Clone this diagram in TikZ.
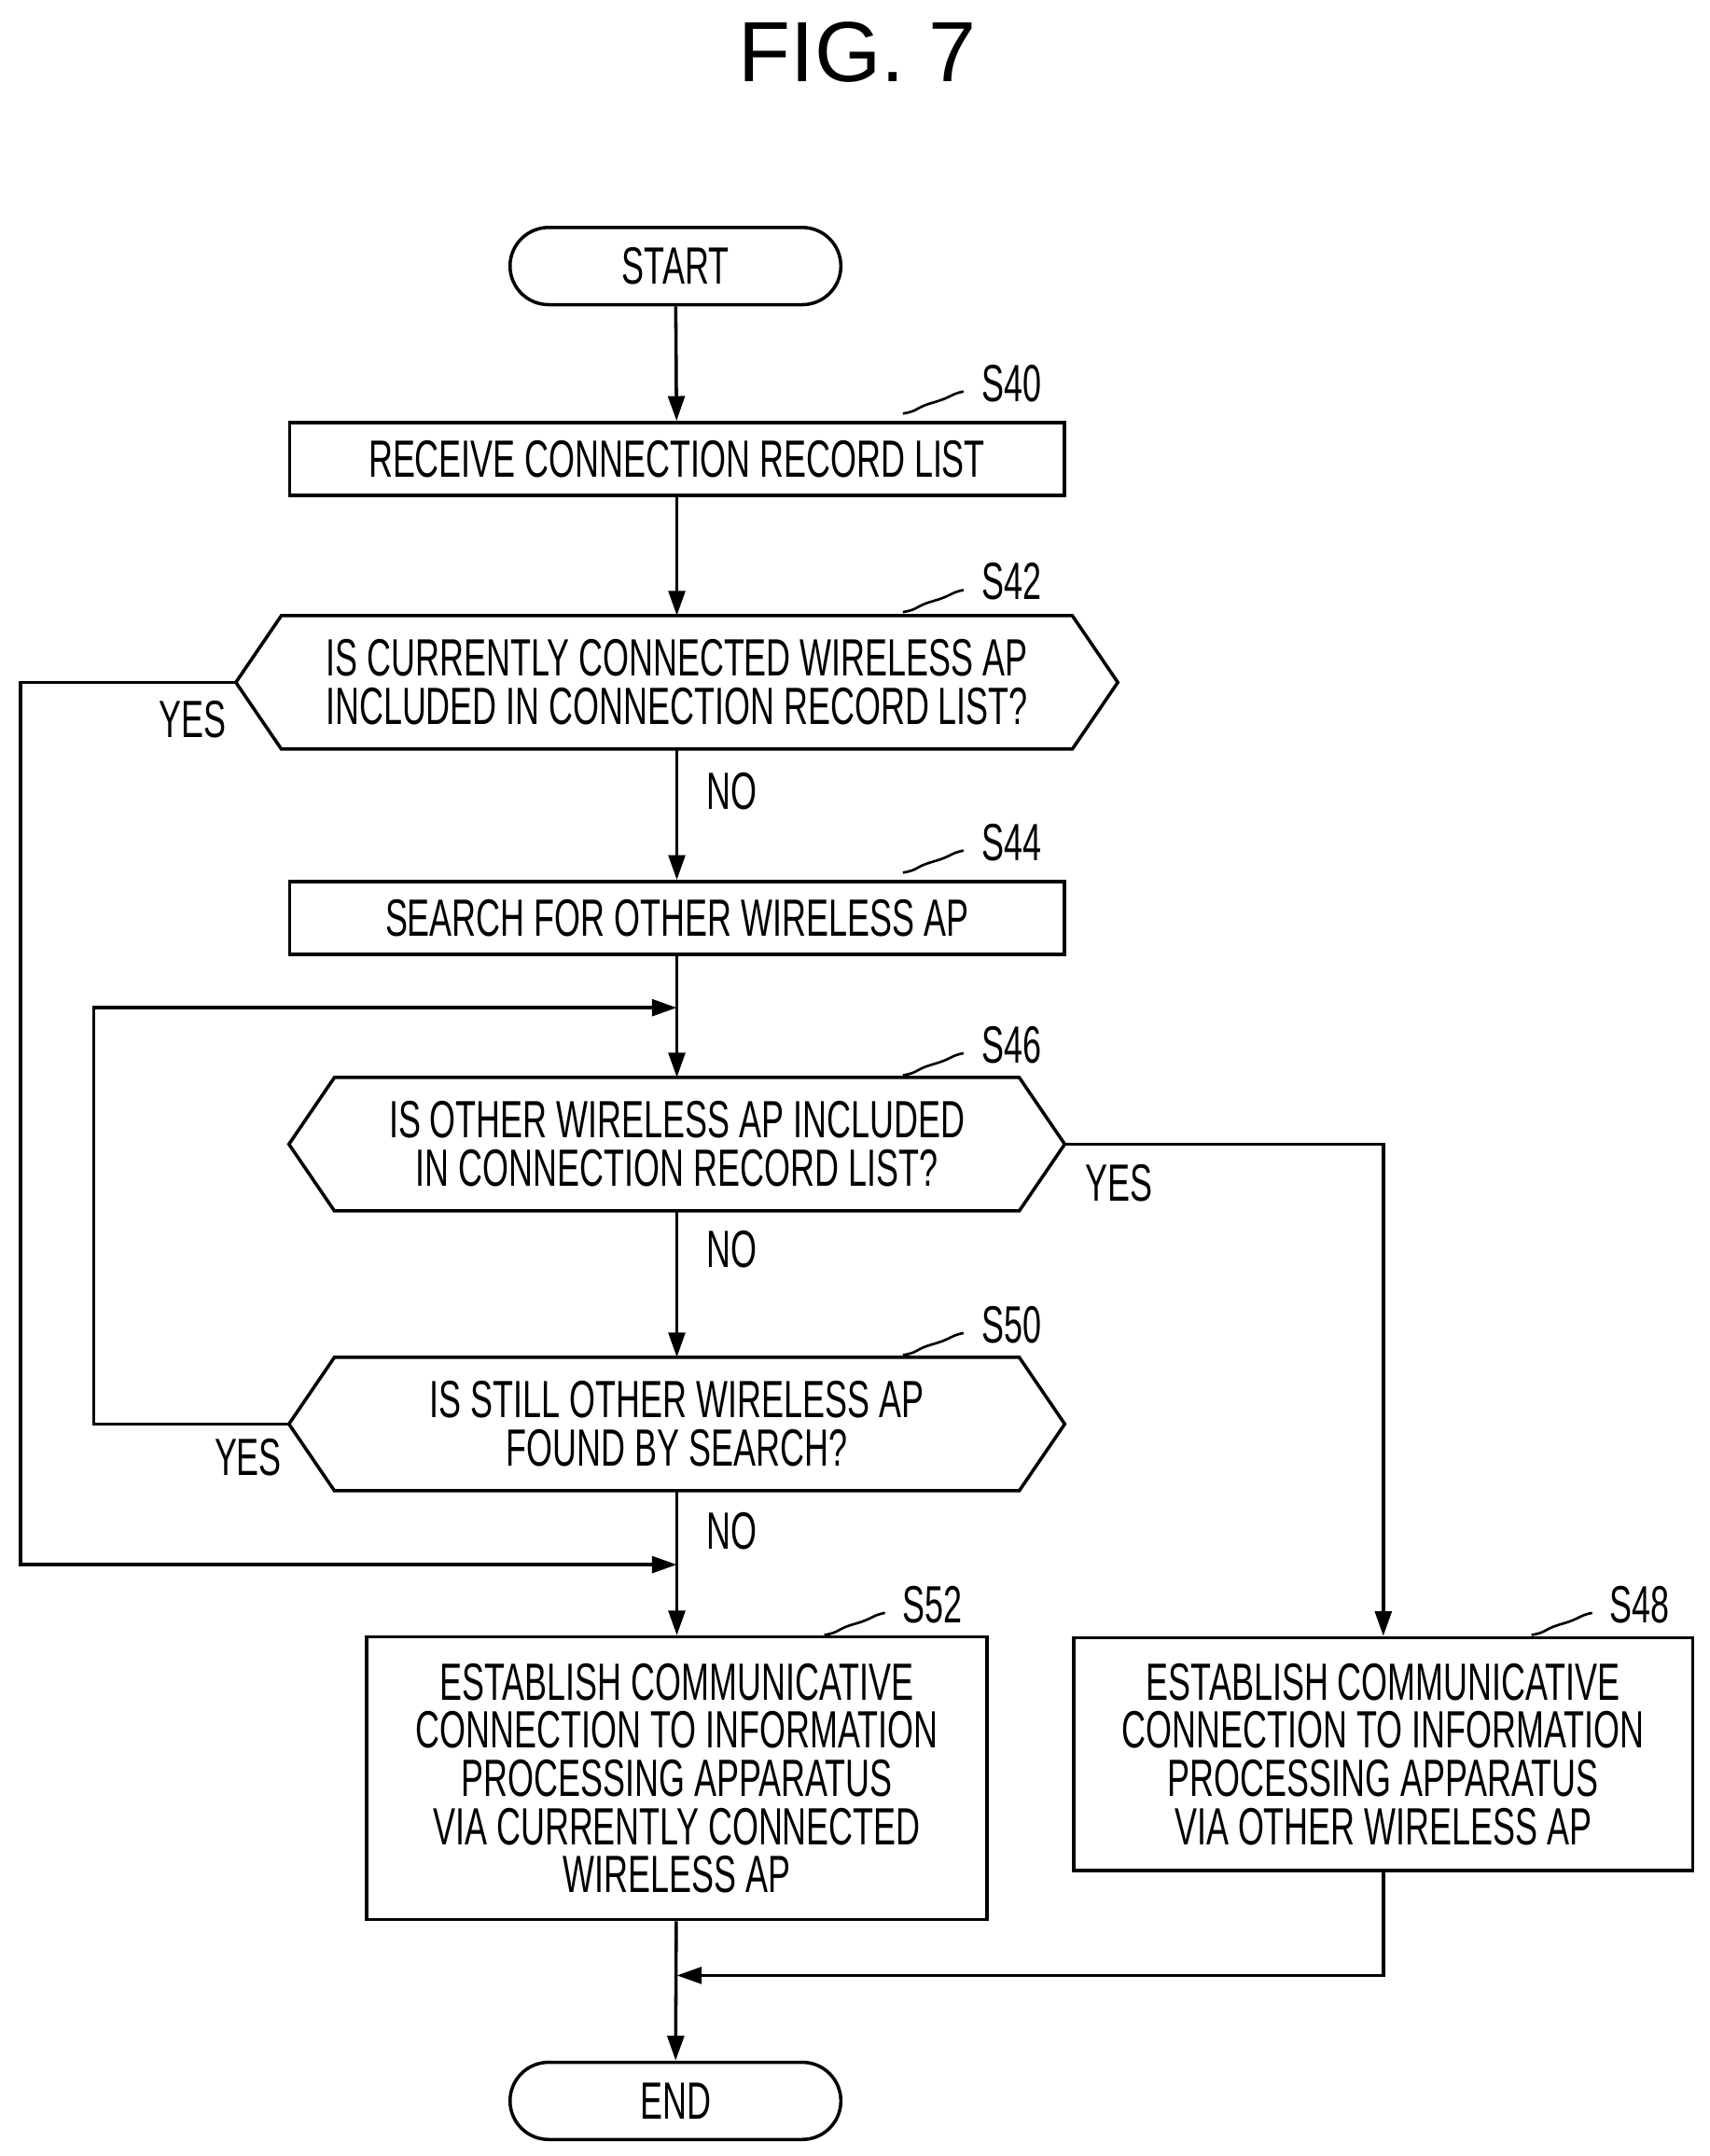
\documentclass[tikz,border=0pt]{standalone}
\usepackage{fontspec}
\setmainfont[FakeStretch=0.64]{Liberation Sans}
\newfontfamily\figfont{Liberation Sans}
\usetikzlibrary{calc,arrows.meta}
\tikzset{
  box/.style={draw,line width=1.2pt,inner sep=0pt,minimum height=26.5pt,align=center,
    font=\fontsize{19}{17.5}\selectfont},
  term/.style={box,rounded corners=14pt,minimum width=120pt,minimum height=28pt},
  dec/.style={inner sep=0pt,minimum height=48pt,align=center,font=\fontsize{19}{17.5}\selectfont},
  lbl/.style={font=\fontsize{19}{19}\selectfont},
  flow/.style={line width=1.2pt,-{Triangle[length=9pt,width=6pt]}},
  line/.style={line width=1.2pt},
}
\newcommand{\hexa}[2]{% node, chamfer
  \draw[line] (#1.west) -- ($(#1.north west)+(#2,0)$) -- ($(#1.north east)-(#2,0)$) -- (#1.east)
    -- ($(#1.south east)-(#2,0)$) -- ($(#1.south west)+(#2,0)$) -- cycle;}
\newcommand{\steplbl}[3]{% x, y of squiggle start, text
  \draw[line width=0.9pt] (#1,#2) .. controls +(12,-2) and +(-14,4) .. ++(22,-8)
    .. controls +(14,-4) and +(-10,2) .. ++(22,-8);
  \node[lbl,anchor=west] at (#1+50,#2-22) {#3};}
\begin{document}
\begin{tikzpicture}[x=0.5pt,y=-0.5pt]
  \useasboundingbox (0,0) rectangle (1240,1564);
  \node[font=\figfont\fontsize{31}{31}\selectfont] (title) at (622,38) {FIG. 7};

  \node[term] (start) at (490,193) {START};
  \node[box,minimum width=281pt] (s40) at (491,333) {RECEIVE CONNECTION RECORD LIST};
  \node[dec,minimum width=319.5pt] (s42) at (491,495) {IS CURRENTLY CONNECTED WIRELESS AP\\INCLUDED IN CONNECTION RECORD LIST?};
  \node[box,minimum width=281pt] (s44) at (491,666) {SEARCH FOR OTHER WIRELESS AP};
  \node[dec,minimum width=281pt] (s46) at (491,830) {IS OTHER WIRELESS AP INCLUDED\\IN CONNECTION RECORD LIST?};
  \node[dec,minimum width=281pt] (s50) at (491,1033) {IS STILL OTHER WIRELESS AP\\FOUND BY SEARCH?};
  \node[box,minimum width=225pt,minimum height=102.5pt] (s52) at (491,1290) {ESTABLISH COMMUNICATIVE\\CONNECTION TO INFORMATION\\PROCESSING APPARATUS\\VIA CURRENTLY CONNECTED\\WIRELESS AP};
  \node[box,minimum width=224.5pt,minimum height=84.5pt] (s48) at (1003.5,1272.5) {ESTABLISH COMMUNICATIVE\\CONNECTION TO INFORMATION\\PROCESSING APPARATUS\\VIA OTHER WIRELESS AP};
  \node[term] (end) at (490,1524) {END};

  \hexa{s42}{16.5pt}
  \hexa{s46}{16.5pt}
  \hexa{s50}{16.5pt}

  \coordinate (loop) at (491,731);
  \coordinate (join) at (491,1135);
  \coordinate (merge) at (491,1433);

  \draw[flow] (start) -- (s40);
  \draw[flow] (s40) -- (s42);
  \draw[flow] (s42) -- (s44);
  \draw[flow] (s44) -- (s46);
  \draw[flow] (s46) -- (s50);
  \draw[flow] (s50) -- (s52);
  \draw[flow] (s52) -- (end);
  \draw[flow] (s50.west) -| (68,731) -- (loop);
  \draw[flow] (s42.west) -| (15,1135) -- (join);
  \draw[flow] (s46.east) -| (s48.north);
  \draw[flow] (s48.south) |- (merge);

  \node[lbl] (y42) at (140,522) {YES};
  \node[lbl] (n42) at (531,574) {NO};
  \node[lbl] (y46) at (812,858) {YES};
  \node[lbl] (n46) at (531,906) {NO};
  \node[lbl] (y50) at (180,1057) {YES};
  \node[lbl] (n50) at (531,1111) {NO};

  \steplbl{655}{300}{S40}
  \steplbl{655}{444}{S42}
  \steplbl{655}{633}{S44}
  \steplbl{655}{780}{S46}
  \steplbl{655}{983}{S50}
  \steplbl{598}{1186}{S52}
  \steplbl{1111}{1186}{S48}
\end{tikzpicture}
\end{document}
